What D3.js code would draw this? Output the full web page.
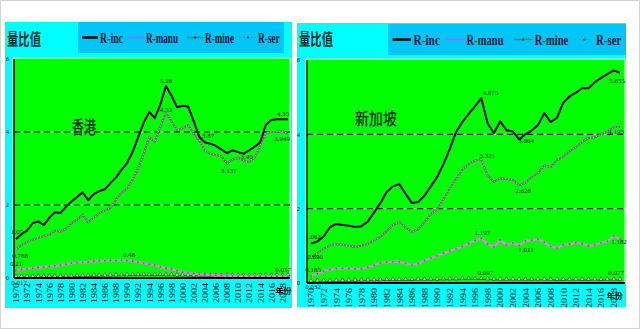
<!DOCTYPE html>
<html>
<head>
<meta charset="utf-8">
<script src="https://cdn.jsdelivr.net/npm/d3@7"></script>
<style>
  body { margin: 0; background: #fff; }
  svg { display: block; }
</style>
</head>
<body>
<div id="vis"></div>
<script>
// ---- data ----
const years = [1970,1971,1972,1973,1974,1975,1976,1977,1978,1979,
  1980,1981,1982,1983,1984,1985,1986,1987,1988,1989,
  1990,1991,1992,1993,1994,1995,1996,1997,1998,1999,
  2000,2001,2002,2003,2004,2005,2006,2007,2008,2009,
  2010,2011,2012,2013,2014,2015,2016,2017,2018,2019];
const xTickYears = [1970,1972,1974,1976,1978,1980,1982,1984,1986,1988,1990,1992,1994,
  1996,1998,2000,2002,2004,2006,2008,2010,2012,2014,2016,2018];
const yTicks = [0, 2, 4, 6];
const refLines = [2, 4];
const seriesNames = ["R-inc", "R-manu", "R-mine", "R-ser"];
const yTitle = "量比值";
const xTitle = "年份";
const regionNames = ["香港", "新加坡"];

// Hong Kong
const hkInc = [1.07,1.20,1.30,1.50,1.55,1.45,1.65,1.80,1.78,1.95,
  2.10,2.22,2.35,2.13,2.30,2.38,2.43,2.60,2.75,2.96,
  3.15,3.45,3.85,4.25,4.55,4.38,4.75,5.26,5.00,4.68,
  4.72,4.70,4.30,3.87,3.72,3.68,3.62,3.52,3.42,3.50,
  3.45,3.40,3.50,3.60,3.72,4.20,4.33,4.35,4.35,4.35];
const hkManu = [0.21,0.24,0.25,0.27,0.29,0.30,0.32,0.33,0.35,0.38,
  0.41,0.42,0.43,0.44,0.46,0.47,0.47,0.48,0.48,0.49,
  0.48,0.46,0.43,0.41,0.38,0.35,0.30,0.27,0.24,0.20,
  0.16,0.14,0.12,0.10,0.09,0.08,0.07,0.07,0.06,0.06,
  0.05,0.05,0.05,0.05,0.05,0.05,0.05,0.05,0.05,0.05];
const hkMine = [0.017,0.02,0.02,0.02,0.025,0.025,0.03,0.03,0.03,0.035,
  0.035,0.04,0.04,0.045,0.05,0.05,0.055,0.06,0.06,0.065,
  0.065,0.07,0.07,0.07,0.07,0.07,0.07,0.065,0.065,0.06,
  0.06,0.06,0.055,0.055,0.055,0.05,0.05,0.05,0.05,0.05,
  0.05,0.05,0.05,0.05,0.05,0.055,0.055,0.055,0.057,0.057];
const hkSer = [0.788,0.90,0.99,1.05,1.10,1.15,1.18,1.30,1.26,1.35,
  1.50,1.60,1.73,1.53,1.65,1.78,1.85,1.92,2.14,2.33,
  2.45,2.70,3.00,3.40,3.86,3.73,4.15,4.52,4.30,4.05,
  4.10,4.19,3.95,3.78,3.50,3.40,3.37,3.34,3.137,3.25,
  3.29,3.22,3.18,3.30,3.64,3.97,4.00,4.00,4.02,3.949];
const hkLabels = [
  ["inc", 1970, "1.07"], ["ser", 1970, "0.788"], ["manu", 1970, "0.21"], ["mine", 1970, "0.017"],
  ["inc", 1997, "5.26"], ["ser", 1997, "4.52"], ["inc", 2003, "3.87"], ["inc", 2011, "3.40"],
  ["ser", 2008, "3.137"], ["manu", 1990, "0.48"], ["inc", 2019, "4.35"], ["ser", 2019, "3.949"],
  ["mine", 2019, "0.057"]
];

// Singapore
const sgInc = [1.062,1.12,1.25,1.50,1.59,1.56,1.54,1.51,1.53,1.65,
  1.90,2.15,2.45,2.60,2.66,2.40,2.15,2.18,2.35,2.60,
  2.85,3.20,3.60,4.06,4.33,4.55,4.75,4.975,4.30,4.03,
  4.35,4.11,4.08,3.864,4.00,4.10,4.25,4.57,4.33,4.44,
  4.85,5.02,5.12,5.24,5.24,5.40,5.52,5.62,5.72,5.655];
const sgManu = [0.185,0.25,0.32,0.36,0.39,0.40,0.39,0.38,0.38,0.42,
  0.48,0.54,0.56,0.57,0.57,0.53,0.48,0.52,0.60,0.67,
  0.73,0.80,0.86,0.92,0.98,1.06,1.15,1.197,1.05,0.97,
  1.16,1.02,1.08,1.011,1.13,1.15,1.18,1.10,0.98,0.94,
  1.02,1.05,1.08,1.05,1.00,1.02,1.08,1.12,1.26,1.182];
const sgMine = [0.032,0.035,0.04,0.04,0.045,0.05,0.05,0.055,0.06,0.06,
  0.065,0.065,0.07,0.07,0.07,0.075,0.075,0.08,0.08,0.085,
  0.085,0.09,0.09,0.09,0.095,0.095,0.095,0.097,0.09,0.085,
  0.08,0.08,0.085,0.08,0.08,0.08,0.085,0.08,0.08,0.075,
  0.075,0.08,0.08,0.075,0.075,0.08,0.075,0.08,0.08,0.077];
const sgSer = [0.690,0.80,0.92,1.02,1.05,1.03,1.00,0.97,1.00,1.05,
  1.15,1.24,1.40,1.56,1.64,1.50,1.37,1.45,1.64,1.85,
  1.98,2.25,2.55,2.80,3.04,3.20,3.30,3.321,2.90,2.72,
  2.82,2.80,2.77,2.628,2.70,2.85,2.96,3.17,3.12,3.30,
  3.39,3.55,3.65,3.80,3.90,3.92,4.00,4.08,4.19,4.195];
const sgLabels = [
  ["inc", 1970, "1.062"], ["ser", 1970, "0.690"], ["manu", 1970, "0.185"], ["mine", 1970, "0.032"],
  ["inc", 1997, "4.975"], ["inc", 2003, "3.864"], ["inc", 2019, "5.655"], ["ser", 2019, "4.195"],
  ["ser", 1997, "3.321"], ["ser", 2003, "2.628"], ["manu", 1997, "1.197"], ["manu", 2003, "1.011"],
  ["manu", 2019, "1.182"], ["mine", 1997, "0.097"], ["mine", 2019, "0.077"]
];

// ---- layout ----
const W = 640, H = 329;
const panels = [
  { name: regionNames[0], series: { inc: hkInc, manu: hkManu, mine: hkMine, ser: hkSer }, labels: hkLabels,
    box: [5, 22, 292, 308], legend: [78, 22, 284, 53], plot: [14, 59, 290, 278], xr: [16, 288],
    namePos: [72, 134], nameSize: 18, nameLen: 24, yPad: 5,
    nudge: [[1,-5],[4,9],[0,-4],[3,8],[0,-3],[0,-1],[9,1],[3,5],[2,10],[2,-3],[-5,-3],[-6,7],[-5,-4]] },
  { name: regionNames[1], series: { inc: sgInc, manu: sgManu, mine: sgMine, ser: sgSer }, labels: sgLabels,
    box: [297, 23, 626, 307], legend: [388, 24, 626, 55], plot: [307, 60, 625, 283], xr: [311, 620],
    namePos: [355, 125], nameSize: 17, nameLen: 42, yPad: 7,
    nudge: [[2,-5],[4,2],[2,-4],[2,7],[9,-3],[7,4],[-3,10],[-4,7],[6,-2],[4,8],[1,-4],[7,7],[-1,5],[4,-4],[-4,-5]] }
];
const keys = ["inc", "manu", "mine", "ser"];

const svg = d3.select("#vis").append("svg").attr("width", W).attr("height", H);
svg.append("rect").attr("x", 0.5).attr("y", 0.5).attr("width", W - 1).attr("height", H - 1)
  .attr("fill", "#fff").attr("stroke", "#d4d4d4");

function drawSeries(g, key, vals, x, y) {
  const line = d3.line().x((d, i) => x(years[i])).y(d => y(d));
  if (key === "inc") {
    g.append("path").attr("d", line(vals)).attr("fill", "none")
      .attr("stroke", "#000").attr("stroke-width", 2).attr("stroke-linejoin", "round");
  } else if (key === "manu") {
    g.append("path").attr("d", line(vals)).attr("fill", "none")
      .attr("stroke", "#d08ad8").attr("stroke-width", 2.4);
    g.append("g").selectAll("circle").data(vals).join("circle")
      .attr("cx", (d, i) => x(years[i])).attr("cy", d => y(d)).attr("r", 0.9).attr("fill", "#6a6a6a");
  } else if (key === "mine") {
    g.append("path").attr("d", line(vals)).attr("fill", "none")
      .attr("stroke", "#505050").attr("stroke-width", 1);
    g.append("g").selectAll("path").data(vals).join("path")
      .attr("transform", (d, i) => `translate(${x(years[i])},${y(d) - 1})`)
      .attr("d", d3.symbol(d3.symbolTriangle, 7))
      .attr("fill", "#e8e8e8").attr("stroke", "#303030").attr("stroke-width", 0.6);
  } else {
    g.append("path").attr("d", line(vals)).attr("fill", "none")
      .attr("stroke", "#6e6e6e").attr("stroke-width", 2);
    g.append("path").attr("d", line(vals)).attr("fill", "none")
      .attr("stroke", "#dcdcdc").attr("stroke-width", 1).attr("stroke-dasharray", "1,2");
  }
}

panels.forEach(p => {
  const [bx0, by0, bx1, by1] = p.box;
  const [lx0, ly0, lx1, ly1] = p.legend;
  const [px0, py0, px1, py1] = p.plot;
  const g = svg.append("g");

  g.append("rect").attr("x", bx0).attr("y", by0).attr("width", bx1 - bx0).attr("height", by1 - by0)
    .attr("fill", "#00ffff");
  g.append("rect").attr("x", lx0).attr("y", ly0).attr("width", lx1 - lx0).attr("height", ly1 - ly0)
    .attr("fill", "#00c6f6");

  // y title
  g.append("text").attr("x", bx0 + 2).attr("y", 45).text(yTitle)
    .attr("font-family", "Noto Sans CJK SC").attr("font-weight", 700).attr("font-size", 16)
    .attr("textLength", 34).attr("lengthAdjust", "spacingAndGlyphs").attr("fill", "#003030");

  // legend
  const k = (lx1 - lx0) / 206;
  const offs = [4, 50, 109, 162], tlen = [23, 32, 29, 22];
  const cy = (ly0 + ly1) / 2;
  keys.forEach((key, i) => {
    const sx = lx0 + offs[i] * k, len = 16 * k;
    const ln = g.append("line").attr("x1", sx).attr("x2", sx + len).attr("y1", cy).attr("y2", cy);
    if (key === "inc") ln.attr("stroke", "#000").attr("stroke-width", 2.5);
    if (key === "manu") ln.attr("stroke", "#ff33ff").attr("stroke-width", 1.5);
    if (key === "mine") ln.attr("stroke", "#707070").attr("stroke-width", 1.5);
    if (key === "ser") ln.attr("stroke", "#7f7f7f").attr("stroke-width", 1.2).attr("stroke-dasharray", "2,1.5");
    if (key === "mine" || key === "ser") {
      g.append("circle").attr("cx", sx + len / 2).attr("cy", cy).attr("r", 1.2).attr("fill", "#404040");
    }
    g.append("text").attr("x", sx + len + 2 * k).attr("y", cy + 5).text(seriesNames[i])
      .attr("font-family", "Liberation Serif").attr("font-weight", 700).attr("font-size", 15)
      .attr("textLength", tlen[i] * k).attr("lengthAdjust", "spacingAndGlyphs").attr("fill", "#0a1a40");
  });

  // plot area
  g.append("rect").attr("x", px0 - 1).attr("y", py0 - 1).attr("width", px1 - px0 + 1).attr("height", py1 - py0 + 1)
    .attr("fill", "#00ff00").attr("stroke", "#e8fff0").attr("stroke-width", 1);

  const x = d3.scaleLinear().domain([years[0], years[years.length - 1]]).range(p.xr);
  const y = d3.scaleLinear().domain([0, 6]).range([py1, py0]);

  // reference lines
  refLines.forEach(v => {
    g.append("line").attr("x1", px0).attr("x2", px1).attr("y1", y(v)).attr("y2", y(v))
      .attr("stroke", "#000").attr("stroke-width", 1).attr("stroke-dasharray", "6,4");
    g.append("line").attr("x1", px0).attr("x2", px1).attr("y1", y(v)).attr("y2", y(v))
      .attr("stroke", "#fff").attr("stroke-width", 1).attr("stroke-dasharray", "1.5,8.5")
      .attr("stroke-dashoffset", -7.2);
  });

  // region name
  g.append("text").attr("x", p.namePos[0]).attr("y", p.namePos[1]).text(p.name)
    .attr("font-family", "Noto Sans CJK SC").attr("font-weight", 500).attr("font-size", p.nameSize)
    .attr("textLength", p.nameLen).attr("lengthAdjust", "spacingAndGlyphs").attr("fill", "#0a2a0a");

  // series (draw back to front)
  ["mine", "manu", "ser", "inc"].forEach(key => drawSeries(g, key, p.series[key], x, y));

  // axes
  const xAxis = g.append("g").attr("transform", `translate(0,${py1})`)
    .call(d3.axisBottom(x).tickValues(xTickYears).tickFormat(d3.format("d")).tickSize(0));
  xAxis.select(".domain").remove();
  xAxis.selectAll("text")
    .attr("transform", "rotate(-90)").attr("x", -5).attr("y", 0).attr("dy", "0.35em")
    .style("text-anchor", "end")
    .attr("font-family", "Liberation Serif").attr("font-size", 8)
    .attr("textLength", 20).attr("lengthAdjust", "spacingAndGlyphs").attr("fill", "#000");
  g.append("line").attr("x1", px0).attr("x2", px1).attr("y1", py1).attr("y2", py1)
    .attr("stroke", "#000").attr("stroke-width", 2);

  const yAxis = g.append("g").attr("transform", `translate(${px0},0)`)
    .call(d3.axisLeft(y).tickValues(yTicks).tickFormat(d3.format("d")).tickSize(0).tickPadding(p.yPad));
  yAxis.select(".domain").remove();
  yAxis.selectAll("text").attr("font-family", "Liberation Serif").attr("font-size", 6).attr("fill", "#000");
  g.append("line").attr("x1", px0).attr("x2", px0).attr("y1", py0).attr("y2", py1)
    .attr("stroke", "#000").attr("stroke-width", 1.5);

  g.append("text").attr("x", x(2018) + 1).attr("y", py1 + 16).text(xTitle)
    .attr("text-anchor", "middle").attr("font-family", "Noto Sans CJK SC").attr("font-weight", 700)
    .attr("font-size", 8).attr("fill", "#000");

  // data labels
  p.labels.forEach(([key, yr, txt], i) => {
    const v = p.series[key][years.indexOf(yr)];
    g.append("text").attr("x", x(yr) + p.nudge[i][0]).attr("y", y(v) + p.nudge[i][1])
      .attr("text-anchor", "middle").text(txt)
      .attr("font-family", "Liberation Serif").attr("font-size", 7).attr("fill", "#1a1a1a");
  });
});
</script>
</body>
</html>
